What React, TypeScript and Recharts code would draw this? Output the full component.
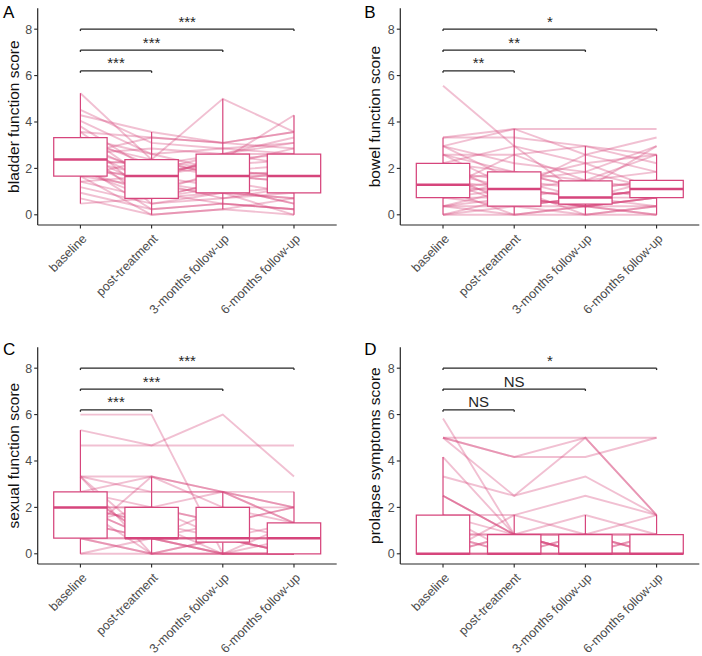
import React from "react";
import {
  ComposedChart,
  Line,
  XAxis,
  YAxis,
  ReferenceArea,
  ReferenceLine,
} from "recharts";

const PINK = "#d6457c";
const INK = "#262626";
const GREY = "#4d4d4d";
const FONT = "'Liberation Sans', Arial, Helvetica, sans-serif";

const timepoints = ["baseline", "post-treatment", "3-months follow-up", "6-months follow-up"];
const bracketHeights = [6.2, 7.1, 8.0];

// one row per participant: baseline, post-treatment, 3 months, 6 months
const bladderScores = [
  [5.24, 2.38, 1.67, 1.43], [4.52, 3.1, 2.86, 2.62], [4.29, 3.57, 3.1, 3.57],
  [4.05, 2.62, 1.9, 2.14], [3.81, 1.9, 2.62, 3.1], [3.57, 3.33, 3.1, 2.86],
  [3.57, 1.43, 0.95, 0.71], [3.33, 2.14, 1.67, 1.9], [3.33, 0.71, 1.43, 0.95],
  [3.1, 2.38, 5.0, 3.57], [3.1, 1.67, 2.38, 4.29], [2.86, 0.48, 0.95, 1.19],
  [2.86, 1.9, 2.14, 2.38], [2.62, 1.19, 1.67, 1.67], [2.62, 2.86, 2.62, 2.62],
  [2.38, 1.67, 1.19, 0.48], [2.38, 0.95, 1.9, 1.67], [2.38, 2.14, 2.62, 3.33],
  [2.14, 1.43, 0.71, 0.95], [2.14, 0.24, 0.48, 0.24], [1.9, 1.67, 2.38, 2.62],
  [1.9, 0.71, 1.43, 1.9], [1.67, 1.19, 0.95, 0], [1.67, 2.38, 1.67, 1.43],
  [1.67, 0, 0.24, 0.71], [1.43, 0.71, 1.19, 0.48], [1.43, 1.67, 2.14, 2.86],
  [1.19, 0.48, 0.71, 1.19], [0.95, 0.24, 0.48, 0.24], [0.71, 0, 0.24, 0],
  [0.48, 0.71, 0.95, 0.71], [2.62, 3.33, 3.1, 3.57], [3.33, 2.62, 2.86, 3.1],
  [2.86, 1.43, 2.62, 2.14], [1.9, 0.95, 0.48, 0.24], [2.14, 2.38, 1.9, 1.67],
];
const bowelScores = [
  [5.56, 2.96, 0.74, 1.11], [3.33, 3.7, 3.7, 3.7], [3.33, 3.33, 2.96, 2.59],
  [2.96, 3.7, 2.59, 3.33], [2.96, 2.22, 1.85, 2.96], [2.96, 1.48, 0.74, 1.11],
  [2.59, 2.59, 2.96, 2.22], [2.59, 1.11, 1.48, 1.85], [2.22, 2.96, 2.22, 2.59],
  [2.22, 1.85, 1.11, 1.48], [2.22, 0.74, 0.37, 0.74], [1.85, 1.48, 1.85, 1.11],
  [1.85, 0.37, 0.74, 0.37], [1.48, 1.11, 0.74, 1.48], [1.48, 1.85, 1.48, 1.11],
  [1.48, 0.37, 0.37, 0.74], [1.11, 1.11, 0.74, 1.11], [1.11, 0, 0.37, 0.74],
  [1.11, 1.48, 1.11, 1.48], [1.11, 2.59, 1.48, 2.59], [0.74, 0.74, 0.37, 0.74],
  [0.74, 1.11, 0, 0.37], [0.74, 0.37, 0.74, 1.11], [0.37, 0.74, 0.37, 0.37],
  [0.37, 0, 0.37, 0], [0.37, 1.11, 0.74, 1.11], [0.37, 0.37, 0, 0.37],
  [0, 0.37, 0.74, 0.74], [0, 0, 0, 0], [1.85, 1.11, 2.59, 1.85],
  [2.59, 1.85, 1.11, 2.96], [0.74, 1.48, 2.22, 1.11], [0, 0.74, 0.37, 0],
  [1.48, 0.74, 1.11, 0.74],
];
const sexualScores = [
  [6, 6, 0, 0], [5.33, 4.67, 6, 3.33], [4.67, 4.67, 4.67, 4.67],
  [3.33, 3.33, 2.67, 2], [3.33, 0.67, 0.67, 0.67], [3.33, 0, 0, 0],
  [3.33, 2.67, 2.67, 1.33], [2.67, 2.67, 2.67, 2.67], [2.67, 3.33, 2, 2],
  [2.67, 2, 1.33, 0.67], [2.67, 0.67, 0, 0], [2, 2, 2.67, 1.33],
  [2, 0.67, 0.67, 0.67], [2, 1.33, 0.67, 0], [2, 0, 0.67, 0.67],
  [2, 2, 1.33, 2], [2, 0.67, 2, 1.33], [2, 1.33, 0, 0.67],
  [1.33, 0.67, 1.33, 2], [1.33, 0.67, 0.67, 0], [1.33, 2, 0.67, 1.33],
  [0.67, 0, 0, 0], [0.67, 0.67, 0.67, 0.67], [0.67, 0.67, 0, 0],
  [0.67, 0, 0.67, 0], [0, 0, 0, 0], [0, 0.67, 0.67, 0],
  [2.67, 0.67, 0, 1.33], [0.67, 3.33, 2.67, 2],
];
const prolapseScores = [
  [5.83, 0.83, 0.83, 0.83], [5, 5, 5, 5], [5, 4.17, 4.17, 5],
  [5, 4.17, 5, 1.67], [5, 2.5, 5, 1.67], [4.17, 0.83, 0, 0],
  [3.33, 2.5, 3.33, 1.67], [2.5, 0.83, 0.83, 0.83], [2.5, 0.83, 0.83, 1.67],
  [2.5, 0.83, 0, 0], [1.67, 1.67, 2.5, 1.67], [1.67, 0.83, 0, 0.83],
  [1.67, 0, 0, 0], [0.83, 0.83, 1.67, 0.83], [0.83, 0, 0, 0.83],
  [0.83, 0, 0.83, 0], [0, 0.83, 0, 0], [0, 0, 0.83, 0],
  [0, 0.83, 0.83, 0.83], [0, 0, 0, 0], [0, 0, 0, 0], [0, 0, 0, 0],
  [0.83, 0.83, 0, 0], [0, 1.67, 0.83, 0],
];

// per time point: lower whisker, q1, median, q3, upper whisker
const bladderBoxes = [
  [0.48, 1.67, 2.38, 3.33, 5.24], [0, 0.71, 1.67, 2.38, 3.57],
  [0.24, 0.95, 1.67, 2.62, 5.0], [0, 0.95, 1.67, 2.62, 4.29],
];
const bowelBoxes = [
  [0, 0.74, 1.3, 2.22, 3.33], [0, 0.37, 1.11, 1.85, 3.7],
  [0, 0.46, 0.74, 1.46, 2.96], [0, 0.74, 1.11, 1.48, 2.59],
];
const sexualBoxes = [
  [0, 0.67, 2, 2.67, 5.33], [0, 0.67, 0.67, 2, 3.33],
  [0, 0.5, 0.67, 2, 2.67], [0, 0, 0.67, 1.33, 2.67],
];
const prolapseBoxes = [
  [0, 0, 0, 1.67, 4.17], [0, 0, 0, 0.83, 1.67],
  [0, 0, 0, 0.83, 1.67], [0, 0, 0, 0.83, 1.67],
];

const bladderSignif = ["***", "***", "***"];
const bowelSignif = ["**", "**", "*"];
const sexualSignif = ["***", "***", "***"];
const prolapseSignif = ["NS", "NS", "*"];

const HALF_BOX = 0.375;

function TimeTick(props: any) {
  const { x, y, payload } = props;
  const tx = x + 7;
  const ty = y + 9;
  return (
    <text
      x={tx}
      y={ty}
      transform={`rotate(-45 ${tx} ${ty})`}
      textAnchor="end"
      fontSize={12.6}
      fill={GREY}
      fontFamily={FONT}
    >
      {timepoints[payload.value - 1]}
    </text>
  );
}

type PanelProps = {
  letter: string;
  yLabel: string;
  scores: number[][];
  boxes: number[][];
  signif: string[];
  left: number;
  right: number;
  top: number;
  axisHeight: number;
  labelX: number;
  letterX: number;
  letterY: number;
};

function Panel(p: PanelProps) {
  const data = timepoints.map((_, t) => {
    const row: Record<string, number> = { t: t + 1 };
    p.scores.forEach((s, i) => {
      row[`s${i}`] = s[t];
    });
    return row;
  });

  return (
    <div style={{ position: "relative", width: 351, height: 328 }}>
      <ComposedChart
        width={351}
        height={328}
        data={data}
        margin={{ top: p.top, right: p.right, bottom: 0, left: 0 }}
      >
        <XAxis
          dataKey="t"
          type="number"
          domain={[0.4, 4.6]}
          ticks={[1, 2, 3, 4]}
          interval={0}
          allowDataOverflow
          height={p.axisHeight}
          tick={<TimeTick />}
          tickSize={3.5}
          tickMargin={2}
          tickLine={{ stroke: INK, strokeWidth: 1.1 }}
          axisLine={{ stroke: INK, strokeWidth: 1.2 }}
        />
        <YAxis
          type="number"
          domain={[-0.44, 8.9]}
          ticks={[0, 2, 4, 6, 8]}
          allowDataOverflow
          width={p.left}
          tickSize={3.5}
          tickMargin={2}
          tick={{ fill: GREY, fontSize: 12.5, fontFamily: FONT }}
          tickLine={{ stroke: INK, strokeWidth: 1.1 }}
          axisLine={{ stroke: INK, strokeWidth: 1.2 }}
          label={(lp: any) => {
            const cy = lp.viewBox.y + lp.viewBox.height / 2;
            return (
              <text
                x={p.labelX}
                y={cy}
                transform={`rotate(-90 ${p.labelX} ${cy})`}
                textAnchor="middle"
                fontSize={15.5}
                fill="#111"
                fontFamily={FONT}
              >
                {p.yLabel}
              </text>
            );
          }}
        />

        {p.scores.map((_, i) => (
          <Line
            key={`s${i}`}
            type="linear"
            dataKey={`s${i}`}
            stroke={PINK}
            strokeOpacity={0.34}
            strokeWidth={1.9}
            dot={false}
            activeDot={false}
            isAnimationActive={false}
          />
        ))}

        {p.boxes.map(([lo, q1, med, q3, hi], t) => {
          const x = t + 1;
          return (
            <React.Fragment key={`box${t}`}>
              <ReferenceLine
                segment={[{ x, y: q3 }, { x, y: hi }]}
                stroke={PINK}
                strokeWidth={1.2}
                ifOverflow="visible"
                zIndex={450}
              />
              <ReferenceLine
                segment={[{ x, y: lo }, { x, y: q1 }]}
                stroke={PINK}
                strokeWidth={1.2}
                ifOverflow="visible"
                zIndex={450}
              />
              <ReferenceArea
                x1={x - HALF_BOX}
                x2={x + HALF_BOX}
                y1={q1}
                y2={q3}
                fill="#ffffff"
                fillOpacity={1}
                stroke={PINK}
                strokeWidth={1.25}
                ifOverflow="visible"
                zIndex={460}
              />
              <ReferenceLine
                segment={[{ x: x - HALF_BOX, y: med }, { x: x + HALF_BOX, y: med }]}
                stroke={PINK}
                strokeWidth={2.5}
                ifOverflow="visible"
                zIndex={470}
              />
            </React.Fragment>
          );
        })}

        {bracketHeights.map((level, j) => {
          const end = j + 2;
          const text = p.signif[j];
          return (
            <React.Fragment key={`br${j}`}>
              <ReferenceLine
                segment={[{ x: 1, y: level }, { x: end, y: level }]}
                stroke={INK}
                strokeWidth={1.3}
                ifOverflow="visible"
                zIndex={480}
                label={(lp: any) => (
                  <text
                    x={lp.viewBox.x + lp.viewBox.width / 2}
                    y={lp.viewBox.y - 2.5}
                    textAnchor="middle"
                    fontSize={15}
                    fill={INK}
                    fontFamily={FONT}
                  >
                    {text}
                  </text>
                )}
              />
              <ReferenceLine
                segment={[{ x: 1, y: level }, { x: 1, y: level - 0.08 }]}
                stroke={INK}
                strokeWidth={1.3}
                ifOverflow="visible"
                zIndex={480}
              />
              <ReferenceLine
                segment={[{ x: end, y: level }, { x: end, y: level - 0.08 }]}
                stroke={INK}
                strokeWidth={1.3}
                ifOverflow="visible"
                zIndex={480}
              />
            </React.Fragment>
          );
        })}
      </ComposedChart>
      <svg
        width={351}
        height={328}
        style={{ position: "absolute", left: 0, top: 0, pointerEvents: "none" }}
      >
        <text x={p.letterX} y={p.letterY} fontSize={17} fill="#000" fontFamily={FONT}>
          {p.letter}
        </text>
      </svg>
    </div>
  );
}

export default function App() {
  return (
    <div
      style={{
        width: 702,
        height: 656,
        display: "grid",
        gridTemplateColumns: "351px 351px",
        gridTemplateRows: "328px 328px",
        background: "#fff",
      }}
    >
      <style>{"body{margin:0}"}</style>
      <Panel
        letter="A"
        yLabel="bladder function score"
        scores={bladderScores}
        boxes={bladderBoxes}
        signif={bladderSignif}
        left={37.7}
        right={14.3}
        top={8.3}
        axisHeight={103}
        labelX={19.3}
        letterX={3}
        letterY={18.3}
      />
      <Panel
        letter="B"
        yLabel="bowel function score"
        scores={bowelScores}
        boxes={bowelBoxes}
        signif={bowelSignif}
        left={49.3}
        right={2.7}
        top={8.3}
        axisHeight={103}
        labelX={29.3}
        letterX={13.3}
        letterY={18.3}
      />
      <Panel
        letter="C"
        yLabel="sexual function score"
        scores={sexualScores}
        boxes={sexualBoxes}
        signif={sexualSignif}
        left={37.7}
        right={14.3}
        top={19.3}
        axisHeight={92}
        labelX={19.3}
        letterX={3}
        letterY={27.3}
      />
      <Panel
        letter="D"
        yLabel="prolapse symptoms score"
        scores={prolapseScores}
        boxes={prolapseBoxes}
        signif={prolapseSignif}
        left={49.3}
        right={2.7}
        top={19.3}
        axisHeight={92}
        labelX={29.3}
        letterX={13.3}
        letterY={27.3}
      />
    </div>
  );
}
